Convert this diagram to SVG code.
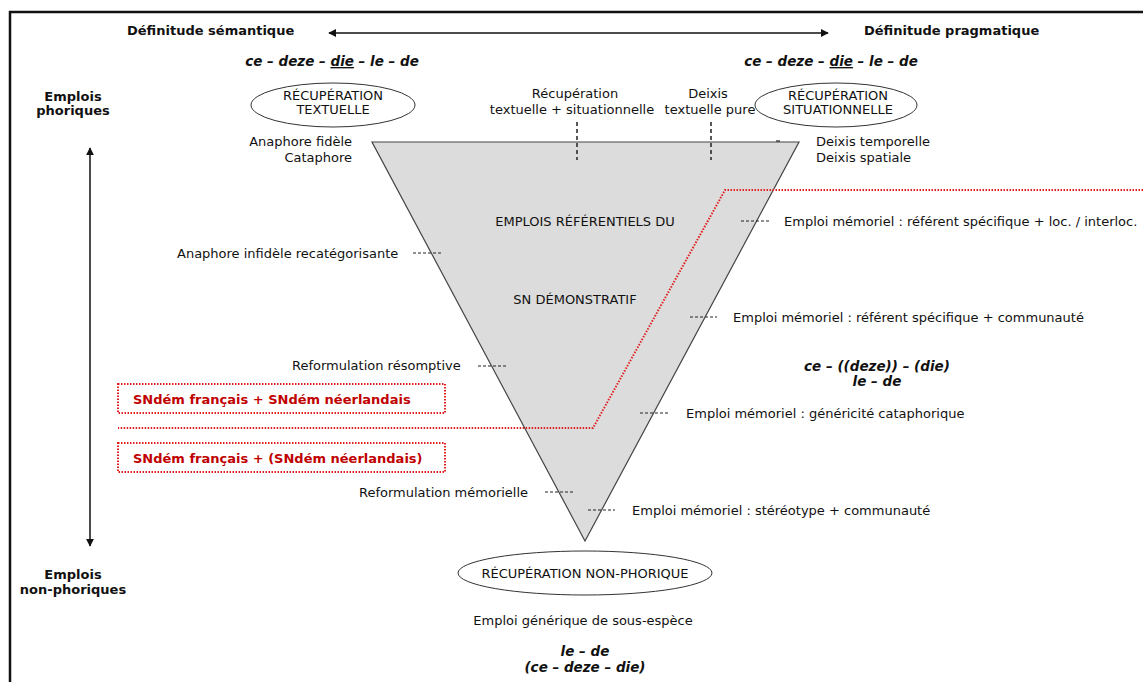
<svg xmlns="http://www.w3.org/2000/svg" width="1143" height="682" viewBox="0 0 1143 682">
  <style>
    text { font-family: "DejaVu Sans", Verdana, sans-serif; font-size: 13px; fill: #111; }
    .b { font-weight: bold; }
    .bi { font-weight: bold; font-style: italic; font-size: 13.5px; }
    .red { fill: #c00000; font-weight: bold; }
    .mid { text-anchor: middle; }
    .end { text-anchor: end; }
    .ell { fill: #fff; stroke: #333; stroke-width: 1; }
    .tick { stroke: #222; stroke-width: 1; stroke-dasharray: 3 2; fill: none; }
    .vdash { stroke: #222; stroke-width: 1.5; stroke-dasharray: 4 3; fill: none; }
    .reddot { stroke: #e02020; stroke-width: 2; stroke-dasharray: 1.5 1.5; fill: none; }
    .axis { stroke: #111; stroke-width: 1.5; fill: none; }
  </style>
  <defs>
    <marker id="ah" viewBox="0 0 10 10" refX="9" refY="5" markerWidth="8" markerHeight="8" markerUnits="userSpaceOnUse" orient="auto-start-reverse">
      <path d="M0,0 L10,5 L0,10 z" fill="#111"/>
    </marker>
  </defs>
  <rect width="1143" height="682" fill="#fff"/>

  <!-- frame -->
  <path d="M10,682 V12 H1143" fill="none" stroke="#111" stroke-width="2.5"/>

  <!-- central inverted triangle -->
  <g id="triangle">
    <polygon points="372,142 799,142 585,541" fill="#dcdcdc" stroke="#444" stroke-width="1.2"/>
    <text class="mid" x="585" y="226">EMPLOIS RÉFÉRENTIELS DU</text>
    <text class="mid" x="575" y="304">SN DÉMONSTRATIF</text>
  </g>

  <!-- connectors: axes, dashed ticks, red boundary -->
  <g id="connectors">
    <line class="axis" x1="329" y1="33" x2="828" y2="33" marker-start="url(#ah)" marker-end="url(#ah)"/>
    <line class="axis" x1="90" y1="148" x2="90" y2="546" marker-start="url(#ah)" marker-end="url(#ah)"/>
    <line class="vdash" x1="577" y1="122" x2="577" y2="160"/>
    <line class="vdash" x1="711" y1="122" x2="711" y2="160"/>
    <line x1="776" y1="141" x2="780" y2="141" stroke="#222" stroke-width="1.2"/>
    <line class="tick" x1="413" y1="253" x2="441" y2="253"/>
    <line class="tick" x1="741" y1="221" x2="770" y2="221"/>
    <line class="tick" x1="690" y1="317" x2="717" y2="317"/>
    <line class="tick" x1="478" y1="366" x2="506" y2="366"/>
    <line class="tick" x1="640" y1="413" x2="668" y2="413"/>
    <line class="tick" x1="545" y1="492" x2="573" y2="492"/>
    <line class="tick" x1="588" y1="510" x2="615" y2="510"/>
    <polyline class="reddot" points="1143,190 725,190 593,428 118,428"/>
  </g>

  <!-- headings -->
  <g id="definitude-semantique"><text class="b" x="127" y="35">Définitude sémantique</text></g>
  <g id="definitude-pragmatique"><text class="b" x="864" y="35">Définitude pragmatique</text></g>
  <g id="forms-left"><text class="bi mid" x="332" y="66">ce – deze – <tspan text-decoration="underline">die</tspan> – le – de</text></g>
  <g id="forms-right"><text class="bi mid" x="831" y="66">ce – deze – <tspan text-decoration="underline">die</tspan> – le – de</text></g>
  <g id="emplois-phoriques">
    <text class="b mid" x="73" y="101">Emplois</text>
    <text class="b mid" x="73" y="115">phoriques</text>
  </g>
  <g id="emplois-non-phoriques">
    <text class="b mid" x="73" y="579">Emplois</text>
    <text class="b mid" x="73" y="594">non-phoriques</text>
  </g>

  <!-- retrieval ellipses -->
  <g id="recup-textuelle">
    <ellipse class="ell" cx="333" cy="105" rx="82" ry="22"/>
    <text class="mid" x="333" y="100">RÉCUPÉRATION</text>
    <text class="mid" x="333" y="114">TEXTUELLE</text>
  </g>
  <g id="recup-situationnelle">
    <ellipse class="ell" cx="836" cy="105" rx="81" ry="22"/>
    <text class="mid" x="838" y="100">RÉCUPÉRATION</text>
    <text class="mid" x="838" y="114">SITUATIONNELLE</text>
  </g>
  <g id="recup-non-phorique">
    <ellipse class="ell" cx="585" cy="573" rx="127" ry="22"/>
    <text class="mid" x="585" y="578">RÉCUPÉRATION NON-PHORIQUE</text>
  </g>

  <!-- top labels -->
  <g id="recup-textuelle-situationnelle">
    <text class="mid" x="575" y="98">Récupération</text>
    <text class="mid" x="572" y="114">textuelle + situationnelle</text>
  </g>
  <g id="deixis-textuelle">
    <text class="mid" x="708" y="98">Deixis</text>
    <text class="mid" x="710" y="114">textuelle pure</text>
  </g>
  <g id="anaphore-fidele">
    <text class="end" x="352" y="146">Anaphore fidèle</text>
    <text class="end" x="352" y="162">Cataphore</text>
  </g>
  <g id="deixis">
    <text x="816" y="146">Deixis temporelle</text>
    <text x="816" y="162">Deixis spatiale</text>
  </g>

  <!-- left-side uses -->
  <g id="anaphore-infidele"><text x="177" y="258">Anaphore infidèle recatégorisante</text></g>
  <g id="reformulation-resomptive"><text x="292" y="370">Reformulation résomptive</text></g>
  <g id="reformulation-memorielle"><text x="359" y="497">Reformulation mémorielle</text></g>

  <!-- right-side uses -->
  <g id="memoriel-loc"><text x="784" y="226">Emploi mémoriel : référent spécifique + loc. / interloc.</text></g>
  <g id="memoriel-communaute"><text x="733" y="322">Emploi mémoriel : référent spécifique + communauté</text></g>
  <g id="forms-middle">
    <text class="bi mid" x="877" y="371">ce – ((deze)) – (die)</text>
    <text class="bi mid" x="877" y="386">le – de</text>
  </g>
  <g id="memoriel-genericite"><text x="686" y="418">Emploi mémoriel : généricité cataphorique</text></g>
  <g id="memoriel-stereotype"><text x="632" y="515">Emploi mémoriel : stéréotype + communauté</text></g>

  <!-- language boxes -->
  <g id="box-both">
    <rect x="118" y="384" width="327" height="29" class="reddot"/>
    <text class="red" x="133" y="404">SNdém français + SNdém néerlandais</text>
  </g>
  <g id="box-french">
    <rect x="118" y="443" width="327" height="29" class="reddot"/>
    <text class="red" x="133" y="463">SNdém français + (SNdém néerlandais)</text>
  </g>

  <!-- bottom -->
  <g id="generique-sous-espece"><text class="mid" x="583" y="625">Emploi générique de sous-espèce</text></g>
  <g id="forms-bottom">
    <text class="bi mid" x="585" y="656">le – de</text>
    <text class="bi mid" x="585" y="672">(ce – deze – die)</text>
  </g>
</svg>
